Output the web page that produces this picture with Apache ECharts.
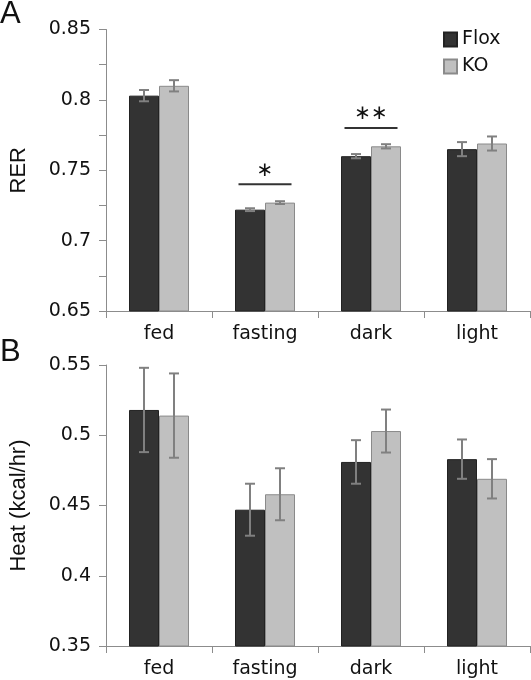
<!DOCTYPE html>
<html>
<head>
<meta charset="utf-8">
<script src="https://cdn.jsdelivr.net/npm/echarts@6/dist/echarts.min.js"></script>
<style>
html,body{margin:0;padding:0;background:#fff;}
#chart{width:531px;height:680px;}
</style>
</head>
<body>
<div id="chart"></div>
<script>
// ---- data ----
const categories = ['fed', 'fasting', 'dark', 'light'];
const seriesNames = ['Flox', 'KO'];

const rerFlox = [0.803, 0.722, 0.760, 0.765];
const rerFloxErr = [0.004, 0.001, 0.0015, 0.005];
const rerKO = [0.810, 0.727, 0.767, 0.769];
const rerKOErr = [0.004, 0.001, 0.0015, 0.005];

const heatFlox = [0.518, 0.447, 0.481, 0.483];
const heatFloxErr = [0.030, 0.0185, 0.0155, 0.014];
const heatKO = [0.514, 0.458, 0.503, 0.469];
const heatKOErr = [0.030, 0.0185, 0.0153, 0.014];

const sigCategories = ['fasting', 'dark'];
const sigLevels = [0.740, 0.780];
const sigLabels = ['\u2217', '\u2217\u2217'];

const rerAxis = { min: 0.65, max: 0.85, interval: 0.025 };
const heatAxis = { min: 0.35, max: 0.55, interval: 0.05 };
const panelLabels = ['A', 'B'];
const yNames = ['RER', 'Heat (kcal/hr)'];

// ---- styles ----
const FLOX = '#333333', KO = '#c0c0c0';
const AXIS = '#8c8c8c', ERR = '#808080';
const TICKFONT = 'DejaVu Sans';
const BARW = 30;

function fmtMajor(v) {
  const k = Math.round(v * 1000);
  if (k % 50 !== 0) return '';
  return String(+(k / 1000).toFixed(3));
}

function errSeries(name, vals, errs, side, gi) {
  return {
    type: 'custom',
    name: name + ' err',
    xAxisIndex: gi, yAxisIndex: gi,
    z: 5,
    silent: true,
    data: vals.map((v, i) => [i, v, errs[i]]),
    renderItem: function (params, api) {
      const i = api.value(0), v = api.value(1), e = api.value(2);
      const top = api.coord([i, v + e]);
      const bot = api.coord([i, v - e]);
      const x = top[0] + side * BARW / 2;
      const cw = 5;
      const st = { stroke: ERR, lineWidth: 2 };
      return {
        type: 'group',
        children: [
          { type: 'line', shape: { x1: x, y1: top[1], x2: x, y2: bot[1] }, style: st },
          { type: 'line', shape: { x1: x - cw, y1: top[1], x2: x + cw, y2: top[1] }, style: st },
          { type: 'line', shape: { x1: x - cw, y1: bot[1], x2: x + cw, y2: bot[1] }, style: st }
        ]
      };
    }
  };
}

function barSeries(name, vals, gi) {
  const isFlox = name === 'Flox';
  return {
    type: 'bar',
    name: name,
    xAxisIndex: gi, yAxisIndex: gi,
    barWidth: BARW,
    barGap: '0%',
    data: vals,
    itemStyle: {
      color: isFlox ? FLOX : KO,
      borderColor: isFlox ? '#222222' : '#8a8a8a',
      borderWidth: 1
    }
  };
}

const sigSeries = {
  type: 'custom',
  name: 'sig',
  xAxisIndex: 0, yAxisIndex: 0,
  z: 6,
  silent: true,
  data: sigCategories.map((c, k) => [categories.indexOf(c), sigLevels[k]]),
  renderItem: function (params, api) {
    const i = api.value(0), v = api.value(1);
    const p = api.coord([i, v]);
    const half = 26.5;
    return {
      type: 'group',
      children: [
        { type: 'line', shape: { x1: p[0] - half, y1: p[1], x2: p[0] + half, y2: p[1] },
          style: { stroke: '#333333', lineWidth: 2 } },
        { type: 'text', style: { text: sigLabels[params.dataIndex], x: p[0], y: p[1] - 14,
          align: 'center', verticalAlign: 'middle', fill: '#111', font: '20px "DejaVu Sans"' } }
      ]
    };
  }
};

const xAxisCommon = {
  type: 'category',
  data: categories,
  boundaryGap: true,
  axisLine: { lineStyle: { color: AXIS, width: 1 } },
  axisTick: { show: true, alignWithLabel: false, interval: 0, length: 7, lineStyle: { color: AXIS } },
  axisLabel: { color: '#111', fontFamily: TICKFONT, fontSize: 19, margin: 14, interval: 0 },
  splitLine: { show: false }
};

function yAxisCommon(ax, name, gi) {
  return {
    type: 'value',
    gridIndex: gi,
    min: ax.min, max: ax.max, interval: ax.interval,
    name: name,
    nameLocation: 'middle',
    nameRotate: 90,
    nameGap: 76,
    nameTextStyle: { color: '#111', fontFamily: 'Liberation Sans', fontSize: 22 },
    axisLine: { show: true, lineStyle: { color: AXIS, width: 1 } },
    axisTick: { show: true, length: 7, lineStyle: { color: AXIS } },
    axisLabel: { color: '#111', fontFamily: TICKFONT, fontSize: 19, margin: 15, formatter: fmtMajor },
    splitLine: { show: false }
  };
}

const titleStyle = { fontFamily: 'Liberation Sans', fontSize: 31, fontWeight: 'normal', color: '#111' };

const option = {
  animation: false,
  backgroundColor: '#ffffff',
  title: [
    { text: panelLabels[0], left: 0, top: -1, padding: 0, textStyle: titleStyle },
    { text: panelLabels[1], left: 0, top: 337, padding: 0, textStyle: titleStyle }
  ],
  legend: {
    data: seriesNames,
    orient: 'vertical',
    left: 443, top: 30,
    padding: 0,
    itemWidth: 13, itemHeight: 14,
    itemGap: 8,
    icon: 'rect',
    textStyle: { fontFamily: TICKFONT, fontSize: 19, color: '#111' }
  },
  grid: [
    { left: 105, right: 1, top: 29.5, height: 281.5 },
    { left: 105, right: 1, top: 365, height: 281 }
  ],
  xAxis: [
    Object.assign({ gridIndex: 0 }, xAxisCommon),
    Object.assign({ gridIndex: 1 }, xAxisCommon)
  ],
  yAxis: [
    yAxisCommon(rerAxis, yNames[0], 0),
    yAxisCommon(heatAxis, yNames[1], 1)
  ],
  series: [
    barSeries('Flox', rerFlox, 0),
    barSeries('KO', rerKO, 0),
    errSeries('Flox', rerFlox, rerFloxErr, -1, 0),
    errSeries('KO', rerKO, rerKOErr, 1, 0),
    sigSeries,
    barSeries('Flox', heatFlox, 1),
    barSeries('KO', heatKO, 1),
    errSeries('Flox', heatFlox, heatFloxErr, -1, 1),
    errSeries('KO', heatKO, heatKOErr, 1, 1)
  ]
};

const chart = echarts.init(document.getElementById('chart'), null, { renderer: 'canvas' });
chart.setOption(option);
</script>
</body>
</html>
